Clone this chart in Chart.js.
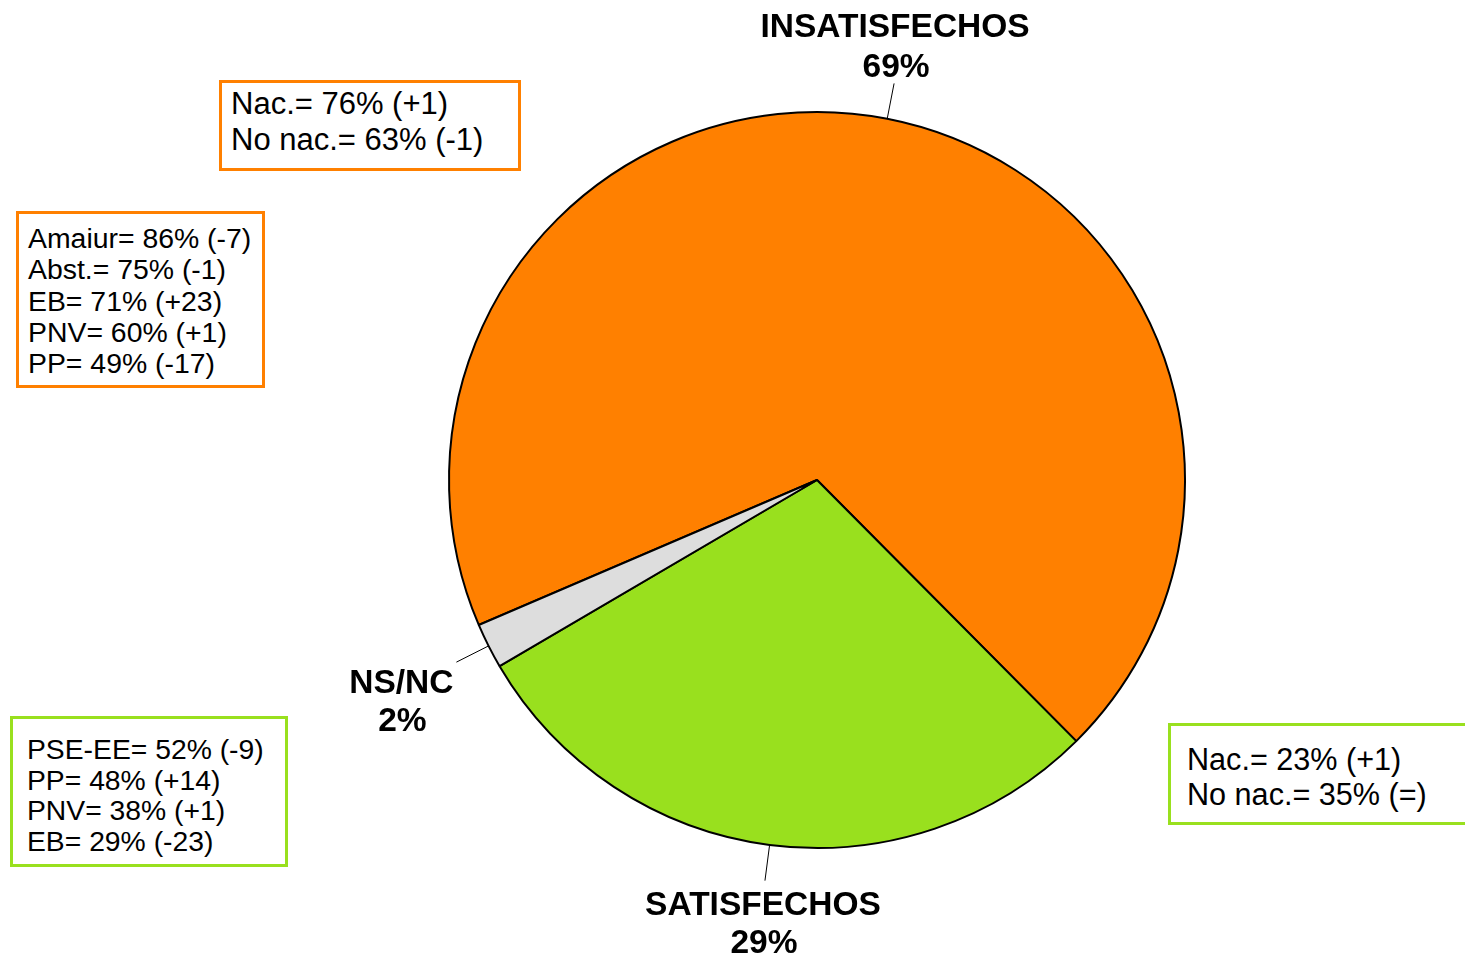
<!DOCTYPE html>
<html>
<head>
<meta charset="utf-8">
<script src="https://cdn.jsdelivr.net/npm/chart.js@4/dist/chart.umd.min.js"></script>
<style>
  body { margin: 0; background: #fff; }
  #wrap { position: relative; width: 1465px; height: 957px; overflow: hidden; font-family: "Liberation Sans", Arial, sans-serif; }
  #pieChart { position: absolute; left: 0; top: 0; }
  .box { position: absolute; box-sizing: border-box; background: #fff; border: 3px solid; color: #000; white-space: nowrap; }
  .orange { border-color: #FF8000; }
  .green { border-color: #99E01E; }
</style>
</head>
<body>
<div id="wrap">
  <canvas id="pieChart" width="1465" height="957"></canvas>
</div>
<script>
// datos
const categories = ["INSATISFECHOS", "SATISFECHOS", "NS/NC"];
const values = [69, 29, 2];
const sliceColors = ["#FF8000", "#99E01E", "#DDDDDD"];

const insatNac = ["Nac.= 76% (+1)", "No nac.= 63% (-1)"];
const insatPartidos = ["Amaiur= 86% (-7)", "Abst.= 75% (-1)", "EB= 71% (+23)", "PNV= 60% (+1)", "PP= 49% (-17)"];
const satisPartidos = ["PSE-EE= 52% (-9)", "PP= 48% (+14)", "PNV= 38% (+1)", "EB= 29% (-23)"];
const satisNac = ["Nac.= 23% (+1)", "No nac.= 35% (=)"];

function addBox(lines, cls, css) {
    let div = document.createElement("div");
    div.className = "box " + cls;
    Object.assign(div.style, css);
    div.innerHTML = lines.map(l => `<div>${l}</div>`).join("");
    document.getElementById("wrap").appendChild(div);
}

addBox(insatNac, "orange", { left: "219px", top: "80px", width: "302px", height: "91px", fontSize: "31px", lineHeight: "36px", padding: "3px 0 0 9px" });
addBox(insatPartidos, "orange", { left: "16px", top: "211px", width: "249px", height: "177px", fontSize: "28.4px", lineHeight: "31.25px", padding: "9px 0 0 9px" });
addBox(satisPartidos, "green", { left: "10px", top: "716px", width: "278px", height: "151px", fontSize: "28.3px", lineHeight: "30.7px", padding: "15px 0 0 14px" });
addBox(satisNac, "green", { left: "1168px", top: "723px", width: "310px", height: "102px", fontSize: "30.6px", lineHeight: "35px", padding: "16px 0 0 16px" });

// etiquetas de los sectores con linea guia
const labelOffsets = [[1, -56, -16], [-2, 25, 63], [-55, 22, 60]];

const sliceLabels = {
    id: "sliceLabels",
    afterDatasetsDraw(chart) {
        const ctx = chart.ctx;
        const meta = chart.getDatasetMeta(0);
        ctx.save();
        meta.data.forEach((arc, i) => {
            const mid = (arc.startAngle + arc.endAngle) / 2;
            const r = arc.outerRadius;
            const x0 = arc.x + Math.cos(mid) * r;
            const y0 = arc.y + Math.sin(mid) * r;
            const x1 = arc.x + Math.cos(mid) * (r + 36);
            const y1 = arc.y + Math.sin(mid) * (r + 36);
            ctx.strokeStyle = "#000";
            ctx.lineWidth = 1;
            ctx.beginPath();
            ctx.moveTo(x0, y0);
            ctx.lineTo(x1, y1);
            ctx.stroke();

            const off = labelOffsets[i];
            ctx.fillStyle = "#000";
            ctx.font = "bold 33.5px 'Liberation Sans', Arial, sans-serif";
            ctx.textAlign = "center";
            ctx.textBaseline = "middle";
            ctx.fillText(categories[i], x1 + off[0], y1 + off[1]);
            ctx.fillText(values[i] + "%", x1 + off[0] + 1, y1 + off[2]);
        });
        ctx.restore();
    }
};

new Chart(document.getElementById("pieChart"), {
    type: "pie",
    data: {
        labels: categories,
        datasets: [{
            data: values,
            backgroundColor: sliceColors,
            borderColor: "#000",
            borderWidth: 2
        }]
    },
    options: {
        responsive: false,
        animation: false,
        rotation: 246.8,
        layout: { padding: { left: 448, right: 279, top: 111, bottom: 108 } },
        plugins: {
            legend: { display: false },
            tooltip: { enabled: false }
        }
    },
    plugins: [sliceLabels]
});
</script>
</body>
</html>
